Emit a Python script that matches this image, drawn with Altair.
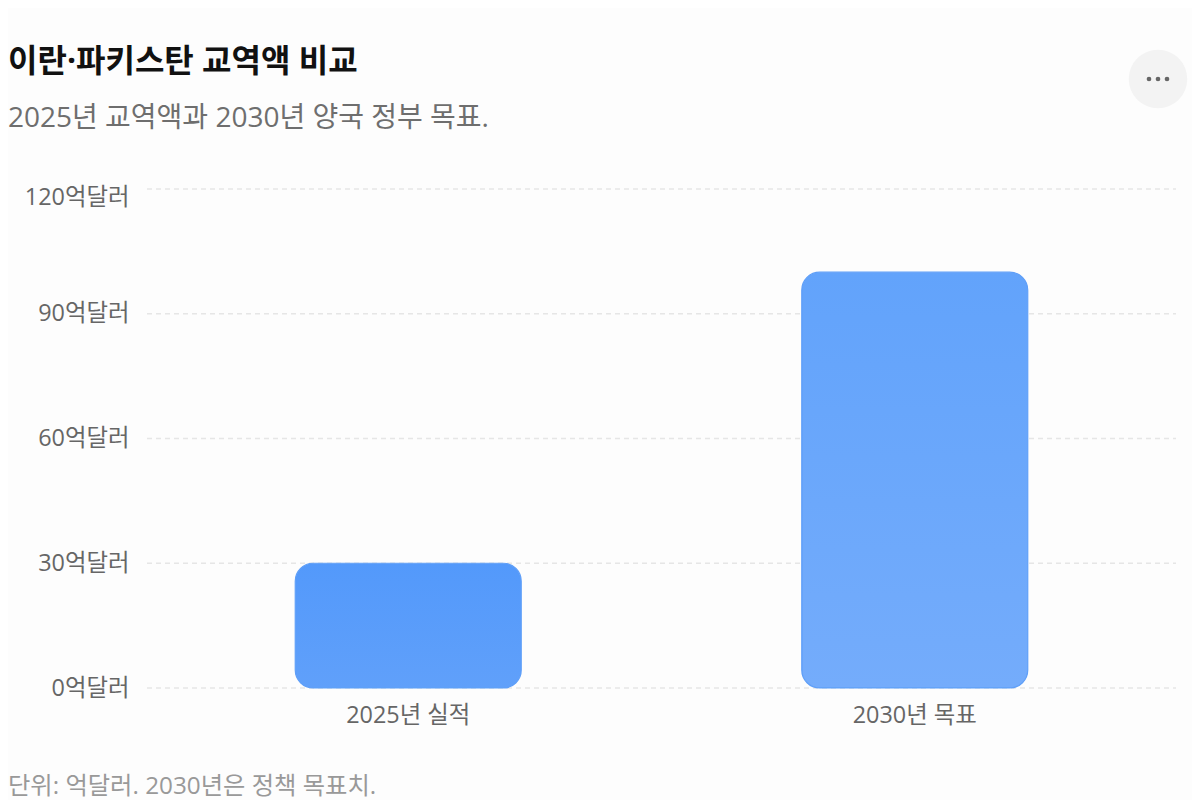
import altair as alt
import pandas as pd

categories = ["2025년 실적", "2030년 목표"]
values = [30, 100]
ticks = [0, 30, 60, 90, 120]
title = "이란·파키스탄 교역액 비교"
subtitle = "2025년 교역액과 2030년 양국 정부 목표."
footnote = "단위: 억달러. 2030년은 정책 목표치."
FONT = "Open Sans, Noto Sans CJK KR"

bars = pd.DataFrame({"cat": categories, "val": values})
grid = pd.DataFrame({"t": ticks})

x = alt.X("cat:N", sort=categories, title=None,
          scale=alt.Scale(domain=categories, paddingInner=0, paddingOuter=0),
          axis=alt.Axis(labelAngle=0, labelFontSize=23.4, labelColor="#666666", labelFont=FONT,
                        domain=False, ticks=False, labelPadding=34, labelBaseline="alphabetic"))
yscale = alt.Scale(domain=[0, 120], nice=False)
yaxis = alt.Axis(values=ticks, labelExpr="datum.value + '억달러'", labelFontSize=23.4, labelColor="#666666",
                 labelFont=FONT, domain=False, ticks=False, grid=False, labelPadding=26,
                 labelOffset={"condition": {"test": "datum.value === 120", "value": 8}, "value": 0})
y = alt.Y("val:Q", title=None, scale=yscale, axis=yaxis)


def grad(top, bottom):
    return alt.Gradient(gradient="linear", x1=0, y1=0, x2=0, y2=1,
                        stops=[alt.GradientStop(offset=0, color=top), alt.GradientStop(offset=1, color=bottom)])


def bar(cat, top, bottom):
    return alt.Chart(bars).transform_filter(alt.datum.cat == cat).mark_bar(
        size=226, cornerRadius=18, color=grad(top, bottom), stroke="#5f9ff8", strokeWidth=1.2
    ).encode(x=x, y=y)


rules = alt.Chart(grid).mark_rule(color="#e6e6e6", strokeWidth=1.5, strokeDash=[5, 4]).encode(
    y=alt.Y("t:Q", title=None, scale=yscale, axis=yaxis),
    x=alt.value(-8), x2=alt.value(1021))

note = alt.Chart(pd.DataFrame({"s": [footnote]})).mark_text(
    align="left", baseline="alphabetic", fontSize=24.3, color="#999999", font=FONT
).encode(text="s:N", x=alt.value(-147), y=alt.value(604.5))

circle = alt.Chart(pd.DataFrame({"k": [1]})).mark_point(filled=True, size=3421, color="#f3f3f3", opacity=1).encode(
    x=alt.value(1003), y=alt.value(-110))
dots = alt.Chart(pd.DataFrame({"px": [994, 1003, 1012]})).mark_point(filled=True, size=22, color="#666666", opacity=1).encode(
    x=alt.X("px:Q", scale=None), y=alt.value(-110))

chart = alt.layer(rules, bar(categories[0], "#5399fb", "#60a0fa"), bar(categories[1], "#62a3fb", "#74acfb"),
                  note, circle, dots).properties(
    width=1013, height=499,
    padding={"left": 147, "top": 181, "right": 24, "bottom": 112},
    autosize=alt.AutoSizeParams(type="none"),
    background="#fdfdfd",
    title=alt.TitleParams(text=title, subtitle=subtitle, anchor="start", frame="group", dx=-147, dy=88,
                          font=FONT, fontSize=32, fontWeight="bold", color="#111111",
                          subtitleFont=FONT, subtitleFontSize=28, subtitleColor="#6e6e6e", subtitlePadding=26)
).configure_view(stroke=None)

chart.save("out.html", embed_options={"renderer": "svg", "actions": False})
